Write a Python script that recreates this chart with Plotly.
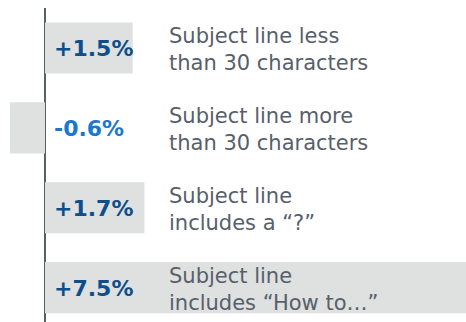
import plotly.graph_objects as go

# Change in open rate by subject-line style
labels = [
    "Subject line less<br>than 30 characters",
    "Subject line more<br>than 30 characters",
    "Subject line<br>includes a \u201c?\u201d",
    "Subject line<br>includes \u201cHow to\u2026\u201d",
]
values = [1.5, -0.6, 1.7, 7.5]
positions = [0, 1, 2, 3]

BAR_COLOR = "#dfe0e0"
TEXT_GRAY = "#56606a"
POS_BLUE = "#0d4e8c"
NEG_BLUE = "#1a78cc"

fig = go.Figure()
fig.add_trace(
    go.Bar(
        y=positions,
        x=values,
        orientation="h",
        width=0.64,
        marker=dict(color=BAR_COLOR, line=dict(width=0)),
        hoverinfo="skip",
    )
)

annotations = []
for pos, val, lab in zip(positions, values, labels):
    sign = "+" if val > 0 else "-"
    annotations.append(
        dict(
            x=0.12, y=pos, xref="x", yref="y",
            xanchor="left", yanchor="middle",
            yshift=-1,
            text=f"<b>{sign}{abs(val):.1f}%</b>",
            showarrow=False,
            font=dict(family="DejaVu Sans", size=22,
                      color=POS_BLUE if val > 0 else NEG_BLUE),
        )
    )
    annotations.append(
        dict(
            x=2.08, y=pos, xref="x", yref="y",
            xanchor="left", yanchor="middle", align="left",
            yshift=-2,
            text=lab,
            showarrow=False,
            font=dict(family="DejaVu Sans", size=21, color=TEXT_GRAY),
        )
    )

fig.update_layout(
    width=466, height=322,
    margin=dict(l=0, r=0, t=8, b=0),
    paper_bgcolor="white", plot_bgcolor="white",
    showlegend=False,
    annotations=annotations,
    xaxis=dict(
        range=[-0.769, 7.197],
        showgrid=False, showticklabels=False, ticks="",
        zeroline=True, zerolinecolor="#5a6068", zerolinewidth=2,
        layer="above traces",
    ),
    yaxis=dict(
        range=[3.43, -0.50],
        showgrid=False, showticklabels=False, ticks="", zeroline=False,
    ),
)

fig.write_html("out.html")
